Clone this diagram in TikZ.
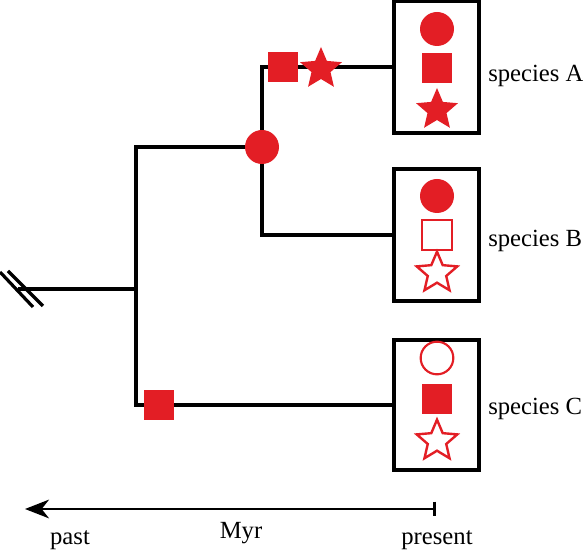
\documentclass[tikz,border=0pt]{standalone}
\usepackage{fontspec}
\setmainfont{Liberation Serif}
\usetikzlibrary{shapes.geometric,arrows.meta}
\definecolor{traitred}{RGB}{227,30,37}

\tikzset{
  every node/.style={font=\fontsize{18.5}{22}\selectfont, inner sep=0pt},
  branch/.style={line width=3pt, line join=miter},
  cutmark/.style={line width=2.4pt},
  traitbox/.style={draw, line width=3pt, fill=white, minimum width=63.75pt, minimum height=99pt},
  fullcirc/.style={circle, fill=traitred, minimum size=25.5pt},
  opencirc/.style={circle, draw=traitred, line width=1.6pt, fill=white, minimum size=24.5pt},
  fullsq/.style={rectangle, fill=traitred, minimum size=22.5pt},
  opensq/.style={rectangle, draw=traitred, line width=1.6pt, fill=white, minimum size=22.5pt},
  fullstar/.style={star, star points=5, star point ratio=2.2, fill=traitred, minimum size=33pt},
  openstar/.style={star, star points=5, star point ratio=2.2, draw=traitred, line width=1.8pt, fill=white, minimum size=32pt},
  splabel/.style={anchor=base west},
  timeline/.style={line width=1.9pt, arrows={Bar[width=11pt]-Stealth[length=18pt,width=14pt,inset=5.5pt]}}
}

\begin{document}
\begin{tikzpicture}[x=0.75pt,y=0.75pt,yscale=-1,xscale=1]
\path[use as bounding box] (0,0) rectangle (583,552);

% tree
\coordinate (cut) at (18,289);
\coordinate (root) at (136,289);
\coordinate (ancAB) at (262,147);

\node[traitbox] (boxA) at (436.5,67) {};
\node[traitbox] (boxB) at (436.5,235) {};
\node[traitbox, minimum height=97.5pt] (boxC) at (436.5,405) {};

\draw[branch] (cut) -- (root);
\draw[branch] (ancAB) -| (root) |- (boxC.west);
\draw[branch] (boxA.west) -| (ancAB) |- (boxB.west);
\draw[cutmark] ([shift={(-18,-17)}]cut) -- ([shift={(15,18)}]cut);
\draw[cutmark] ([shift={(-10,-18)}]cut) -- ([shift={(25,17)}]cut);

% boxes again on top
\node[traitbox] at (boxA) {};
\node[traitbox] at (boxB) {};
\node[traitbox, minimum height=97.5pt] at (boxC) {};

% changes on branches
\node[fullcirc] (circAB) at (ancAB) {};
\node[fullsq] (sqA) at (283,67) {};
\node[fullstar] (starA) at (321,69) {};
\node[fullsq] (sqC) at (159,405) {};

% species A
\node[fullcirc] (circInA) at (437,29) {};
\node[fullsq] (sqInA) at (437,68) {};
\node[fullstar] (starInA) at (437,110) {};
% species B
\node[fullcirc] (circInB) at (437,196) {};
\node[opensq] (sqInB) at (437,235) {};
\node[openstar] (starInB) at (437,273) {};
% species C
\node[opencirc] (circInC) at (437,358) {};
\node[fullsq] (sqInC) at (437,399) {};
\node[openstar] (starInC) at (437,441) {};

% Text Node
\node[splabel] (labA) at (488,82) {species A};
\node[splabel] (labB) at (488,247) {species B};
\node[splabel] (labC) at (488,415) {species C};

% time axis
\coordinate (tnow) at (436,509);
\coordinate (tpast) at (25,509);
\draw[timeline] (tnow) -- (tpast);
\node[anchor=base] (past) at (70,545) {past};
\node[anchor=base] (myr) at (241,539) {Myr};
\node[anchor=base] (present) at (437,545) {present};

\end{tikzpicture}
\end{document}
